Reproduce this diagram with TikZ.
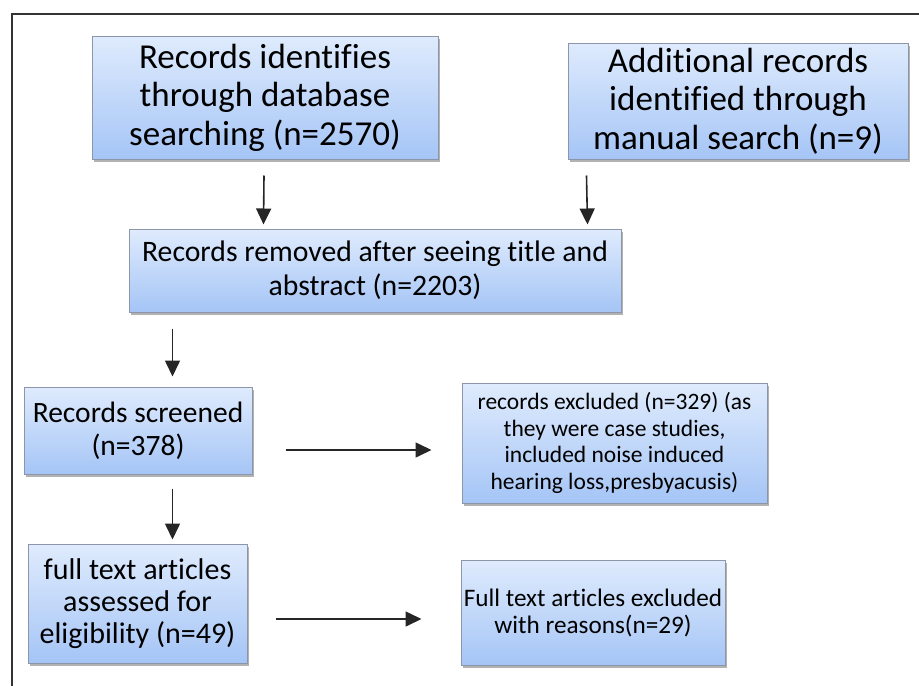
\documentclass[tikz,border=0pt]{standalone}
\usepackage{fontspec}
\setmainfont[Ligatures=NoCommon]{Carlito}
\usetikzlibrary{arrows.meta,shadows}
\definecolor{boxtop}{RGB}{223,235,253}
\definecolor{boxbot}{RGB}{165,197,246}
\definecolor{boxline}{RGB}{140,150,168}
\tikzset{
  box/.style={draw=boxline, line width=1pt, top color=boxtop, bottom color=boxbot,
    align=center, inner sep=0pt,
    drop shadow={shadow xshift=1.5pt, shadow yshift=-3pt, opacity=0.3, fill=black}},
  arr/.style={line width=1.6pt, draw=black!85, -{Triangle[length=16pt,width=15pt]}},
  frame/.style={line width=2pt, draw=black!80}
}
\begin{document}
\begin{tikzpicture}[x=1pt,y=-1pt]
\useasboundingbox (0,0) rectangle (919,686);
\draw[frame] (919,14) -- (12,14) -- (12,686);
\node[box, minimum width=346, minimum height=123, font=\fontsize{35}{38.5}\selectfont] (b1) at (265,97.5)
  {Records identifies\\through database\\searching (n=2570)};
\node[box, minimum width=340, minimum height=116, font=\fontsize{35}{38.5}\selectfont] (b2) at (738,101)
  {Additional records\\identified through\\manual search (n=9)};
\node[box, minimum width=492, minimum height=83, font=\fontsize{29.7}{34}\selectfont] (b3) at (375,270.5)
  {Records removed after seeing title and\\abstract (n=2203)};
\node[box, minimum width=228, minimum height=87, font=\fontsize{29.5}{33}\selectfont] (b4) at (138,430.5)
  {Records screened\\(n=378)};
\node[box, minimum width=305, minimum height=120, font=\fontsize{23.5}{26.5}\selectfont] (b5) at (614.5,443)
  {records excluded (n=329) (as\\they were case studies,\\included noise induced\\hearing loss,presbyacusis)};
\node[box, minimum width=219, minimum height=119, font=\fontsize{30}{32}\selectfont] (b6) at (137.5,603.5)
  {full text articles\\assessed for\\eligibility (n=49)};
\node[box, minimum width=264, minimum height=105, font=\fontsize{25.2}{27}\selectfont] (b7) at (593,612.5)
  {Full text articles excluded\\with reasons(n=29)};
\draw[arr] ([shift={(-1pt,-16pt)}]b1.south) -- ([shift={(135pt,4pt)}]b3.north west);
\draw[arr] ([shift={(19pt,-16pt)}]b2.south west) -- ([shift={(-34pt,4pt)}]b3.north east);
\draw[arr] ([shift={(44pt,-16pt)}]b3.south west) -- ([shift={(149pt,10pt)}]b4.north west);
\draw[arr] ([shift={(33pt,-19.5pt)}]b4.east) -- ([shift={(-30pt,-7pt)}]b5.west);
\draw[arr] ([shift={(149pt,-14pt)}]b4.south west) -- ([shift={(145pt,4pt)}]b6.north west);
\draw[arr] ([shift={(28pt,-15.5pt)}]b6.east) -- ([shift={(-39pt,-6.5pt)}]b7.west);
\end{tikzpicture}
\end{document}
